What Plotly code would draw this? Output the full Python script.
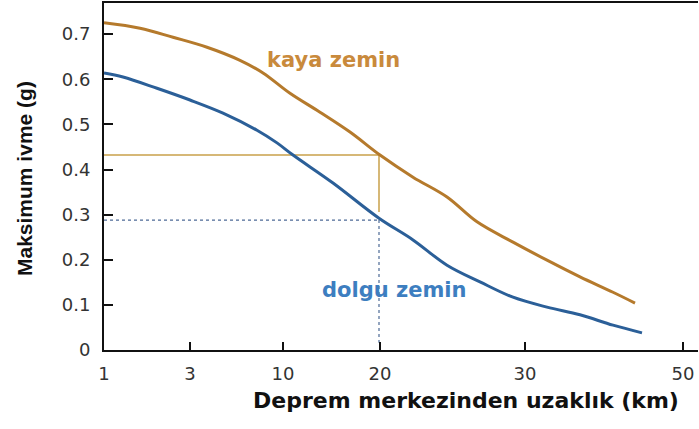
import plotly.graph_objects as go

# ---- axis ticks (x axis is a non-uniform distance scale; positions in axis units) ----
x_tick_pos = [0.0, 0.86, 1.79, 2.76, 4.21, 5.79]
x_tick_labels = ["1", "3", "10", "20", "30", "50"]
y_tick_vals = [0, 0.1, 0.2, 0.3, 0.4, 0.5, 0.6, 0.7]
y_tick_labels = ["0", "0.1", "0.2", "0.3", "0.4", "0.5", "0.6", "0.7"]

# ---- curves (x in axis units, y = maximum acceleration in g) ----
kaya_x = [0.0, 0.36, 0.69, 1.03, 1.36, 1.59, 1.86, 2.16, 2.46, 2.76, 3.09, 3.43, 3.73, 4.09, 4.43, 4.76, 5.09, 5.31]
kaya_y = [0.725, 0.713, 0.693, 0.671, 0.642, 0.614, 0.569, 0.527, 0.483, 0.432, 0.383, 0.339, 0.284, 0.239, 0.199, 0.162, 0.128, 0.104]

dolgu_x = [0.0, 0.19, 0.53, 0.86, 1.19, 1.53, 1.73, 1.89, 2.29, 2.75, 3.09, 3.43, 3.76, 4.09, 4.43, 4.76, 5.09, 5.38]
dolgu_y = [0.614, 0.605, 0.580, 0.554, 0.525, 0.487, 0.459, 0.432, 0.370, 0.292, 0.244, 0.188, 0.151, 0.117, 0.095, 0.078, 0.055, 0.038]

# ---- reading guides at 20 km ----
ref_x = 2.75
kaya_ref = 0.432
dolgu_ref = 0.288

kaya_col = "#b57a2c"
dolgu_col = "#2b5f98"

fig = go.Figure()

# guide lines
fig.add_trace(go.Scatter(x=[0, ref_x], y=[kaya_ref, kaya_ref], mode="lines",
                         line=dict(color="#c9a14a", width=1.5), hoverinfo="skip"))
fig.add_trace(go.Scatter(x=[ref_x, ref_x], y=[kaya_ref, 0.306], mode="lines",
                         line=dict(color="#c9a14a", width=1.5), hoverinfo="skip"))
fig.add_trace(go.Scatter(x=[0, ref_x], y=[dolgu_ref, dolgu_ref], mode="lines",
                         line=dict(color="#4d6a96", width=1.2, dash="dot"), hoverinfo="skip"))
fig.add_trace(go.Scatter(x=[ref_x, ref_x], y=[dolgu_ref, 0.016], mode="lines",
                         line=dict(color="#4d6a96", width=1.2, dash="dot"), hoverinfo="skip"))

# curves
fig.add_trace(go.Scatter(x=kaya_x, y=kaya_y, mode="lines", line=dict(color=kaya_col, width=3, shape="spline")))
fig.add_trace(go.Scatter(x=dolgu_x, y=dolgu_y, mode="lines", line=dict(color=dolgu_col, width=3, shape="spline")))

lab_font = "DejaVu Sans, Liberation Sans, Arial"
fig.add_annotation(x=2.29, y=0.642, text="<b>kaya zemin</b>", showarrow=False,
                   font=dict(family=lab_font, size=21, color="#c98a3c"), xanchor="center", yanchor="middle")
fig.add_annotation(x=2.90, y=0.133, text="<b>dolgu zemin</b>", showarrow=False,
                   font=dict(family=lab_font, size=21, color="#3d7ec0"), xanchor="center", yanchor="middle")

# axis titles
fig.add_annotation(xref="paper", yref="paper", x=(466 - 104) / 594, y=-(401 - 350) / 347,
                   text="<b>Deprem merkezinden uzaklık (km)</b>", showarrow=False,
                   font=dict(family=lab_font, size=22, color="#111111"),
                   xanchor="center", yanchor="middle")
fig.add_annotation(xref="paper", yref="paper", x=-(104 - 24) / 594, y=(350 - 179) / 347,
                   text="<b>Maksimum ivme (g)</b>", showarrow=False, textangle=-90,
                   font=dict(family="Liberation Sans, Arial", size=21, color="#111111"),
                   xanchor="center", yanchor="middle")

fig.update_layout(
    width=699, height=429,
    margin=dict(l=104, r=1, t=3, b=79, autoexpand=False),
    paper_bgcolor="white", plot_bgcolor="white",
    showlegend=False,
    font=dict(family=lab_font, size=18, color="#333333"),
    xaxis=dict(
        range=[0, 5.94], tickvals=x_tick_pos, ticktext=x_tick_labels,
        showgrid=False, zeroline=False, showline=True, linecolor="#111111", linewidth=2,
        mirror=True, ticks="inside", ticklen=8, tickwidth=1.5, tickcolor="#111111",
        ticklabelstandoff=6, automargin=False,
    ),
    yaxis=dict(
        range=[0, 0.769], tickvals=y_tick_vals, ticktext=y_tick_labels,
        showgrid=False, zeroline=False, showline=True, linecolor="#111111", linewidth=2,
        ticks="inside", ticklen=9, tickwidth=1.5, tickcolor="#111111",
        ticklabelstandoff=8, automargin=False,
    ),
)

fig.write_html("out.html", config={"displayModeBar": False},
               post_script="document.body.style.margin='0px';")
